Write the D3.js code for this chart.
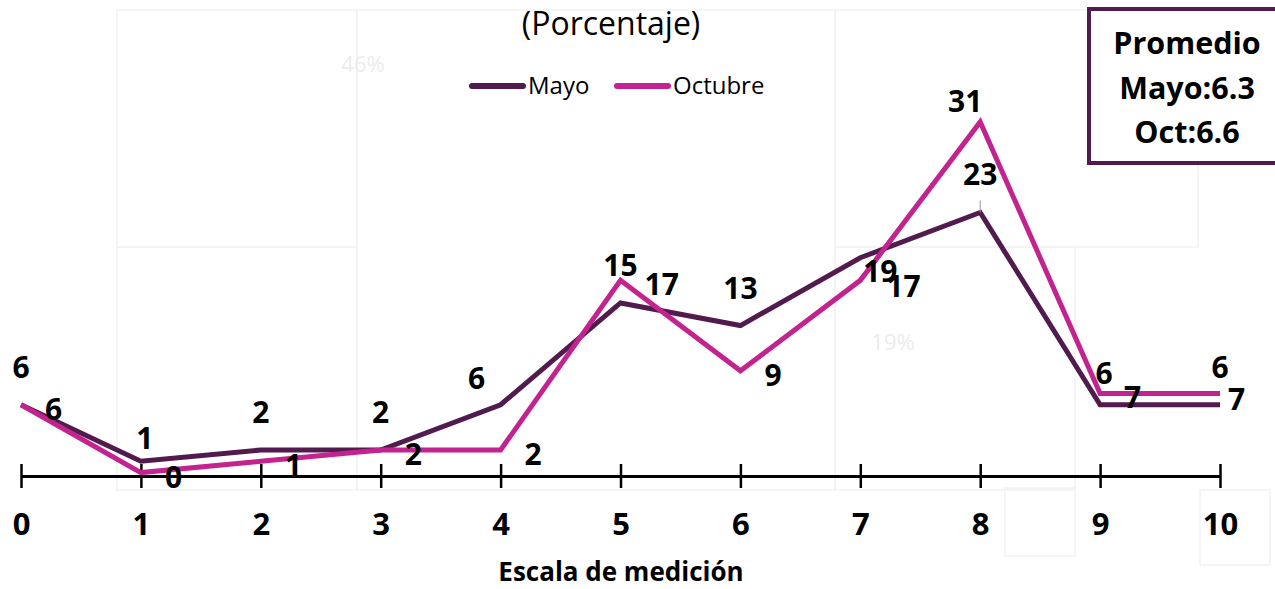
<!DOCTYPE html>
<html>
<head>
<meta charset="utf-8">
<script src="https://cdn.jsdelivr.net/npm/d3@7"></script>
<style>
  body { margin: 0; background: #fff; }
  svg { display: block; font-family: "Open Sans", Lato, sans-serif; }
</style>
</head>
<body>
<svg id="chart"></svg>
<script>
// scale points 0..10
const escala = [0, 1, 2, 3, 4, 5, 6, 7, 8, 9, 10];
// percentages per point
const mayo = [6, 1, 2, 2, 6, 15, 13, 19, 23, 6, 6];
const octubre = [6, 0, 1, 2, 2, 17, 9, 17, 31, 7, 7];
const promedios = ["Promedio", "Mayo:6.3", "Oct:6.6"];

const width = 1275;
const height = 589;
const colMayo = "#521b4e";
const colOct = "#c2238f";

const svg = d3.select("#chart")
    .attr("width", width)
    .attr("height", height);

// faint leftover boxes behind the chart
const ghost = svg.append("g").attr("fill", "none").attr("stroke", "#f2f2f2").attr("stroke-width", 1.5);
[[117, 10, 240, 237], [117, 247, 240, 243], [357, 10, 478, 480], [835, 10, 363, 237],
 [835, 247, 240, 243], [1005, 488, 70, 68], [1200, 490, 70, 75]].forEach(r => {
    ghost.append("rect").attr("x", r[0]).attr("y", r[1]).attr("width", r[2]).attr("height", r[3]);
});
svg.append("text").attr("x", 363).attr("y", 72).attr("text-anchor", "middle")
    .attr("font-size", 22).attr("fill", "#ececec").text("46%");
svg.append("text").attr("x", 893).attr("y", 350).attr("text-anchor", "middle")
    .attr("font-size", 22).attr("fill", "#ececec").text("19%");

const x = d3.scaleLinear().domain([0, 10]).range([21, 1220]);
const y = d3.scaleLinear().domain([-0.3, 31]).range([476, 122]);

// x axis with ticks crossing the line
const axis = svg.append("g")
    .attr("transform", `translate(0,${y(-0.3)})`)
    .call(d3.axisBottom(x).tickValues(escala).tickSizeInner(12).tickSizeOuter(0).tickPadding(25));
axis.select(".domain").attr("stroke", "#000").attr("stroke-width", 3);
axis.selectAll(".tick line").attr("y1", -12).attr("stroke", "#000").attr("stroke-width", 2.5);
axis.selectAll(".tick text")
    .attr("font-family", "'Open Sans', sans-serif")
    .attr("font-size", 31).attr("font-weight", "bold").attr("fill", "#000");

svg.append("text")
    .attr("x", 621).attr("y", 581)
    .attr("text-anchor", "middle")
    .attr("font-size", 26).attr("font-weight", "bold")
    .text("Escala de medición");

svg.append("text")
    .attr("x", 611).attr("y", 35)
    .attr("text-anchor", "middle")
    .attr("font-size", 32)
    .text("(Porcentaje)");

// lines
const line = d3.line().x((d, i) => x(escala[i])).y(d => y(d));
svg.append("path").datum(mayo)
    .attr("d", line).attr("fill", "none")
    .attr("stroke", colMayo).attr("stroke-width", 5);
svg.append("path").datum(octubre)
    .attr("d", line).attr("fill", "none")
    .attr("stroke", colOct).attr("stroke-width", 5);

// small leader at Mayo peak
svg.append("line")
    .attr("x1", x(8)).attr("x2", x(8))
    .attr("y1", y(23) - 12).attr("y2", y(23))
    .attr("stroke", "#999").attr("stroke-width", 1);

// data labels: Mayo above the point, Octubre to the right
const nudgeMayo = { 1: [4, -12], 4: [-24, -16], 7: [20, 24], 9: [4, -21] };
const nudgeOct = { 7: [26, 17], 8: [-15, -10], 10: [8, 17] };
svg.append("g").selectAll("text")
    .data(mayo).join("text")
    .attr("x", (d, i) => x(escala[i]) + (nudgeMayo[i] ? nudgeMayo[i][0] : 0))
    .attr("y", (d, i) => y(d) + (nudgeMayo[i] ? nudgeMayo[i][1] : -27))
    .attr("text-anchor", "middle")
    .attr("font-size", 30).attr("font-weight", "bold")
    .text(d => d);
svg.append("g").selectAll("text")
    .data(octubre).join("text")
    .attr("x", (d, i) => x(escala[i]) + (nudgeOct[i] ? nudgeOct[i][0] : 24))
    .attr("y", (d, i) => y(d) + (nudgeOct[i] ? nudgeOct[i][1] : 15))
    .attr("text-anchor", (d, i) => i === 8 ? "middle" : "start")
    .attr("font-size", 30).attr("font-weight", "bold")
    .text(d => d);

// legend
const legend = svg.append("g").attr("font-size", 24);
[["Mayo", colMayo, 472], ["Octubre", colOct, 617]].forEach(([name, col, lx]) => {
    legend.append("line")
        .attr("x1", lx).attr("x2", lx + 51)
        .attr("y1", 86).attr("y2", 86)
        .attr("stroke", col).attr("stroke-width", 6).attr("stroke-linecap", "round");
    legend.append("text")
        .attr("x", lx + 56).attr("y", 94)
        .text(name);
});

// average box
svg.append("rect")
    .attr("x", 1089).attr("y", 9)
    .attr("width", 200).attr("height", 154)
    .attr("fill", "#fff").attr("stroke", colMayo).attr("stroke-width", 4);
svg.append("g").selectAll("text")
    .data(promedios).join("text")
    .attr("x", 1187)
    .attr("y", (d, i) => 54 + i * 44.5)
    .attr("text-anchor", "middle")
    .attr("font-size", 30.5).attr("font-weight", "bold")
    .text(d => d);
</script>
</body>
</html>
